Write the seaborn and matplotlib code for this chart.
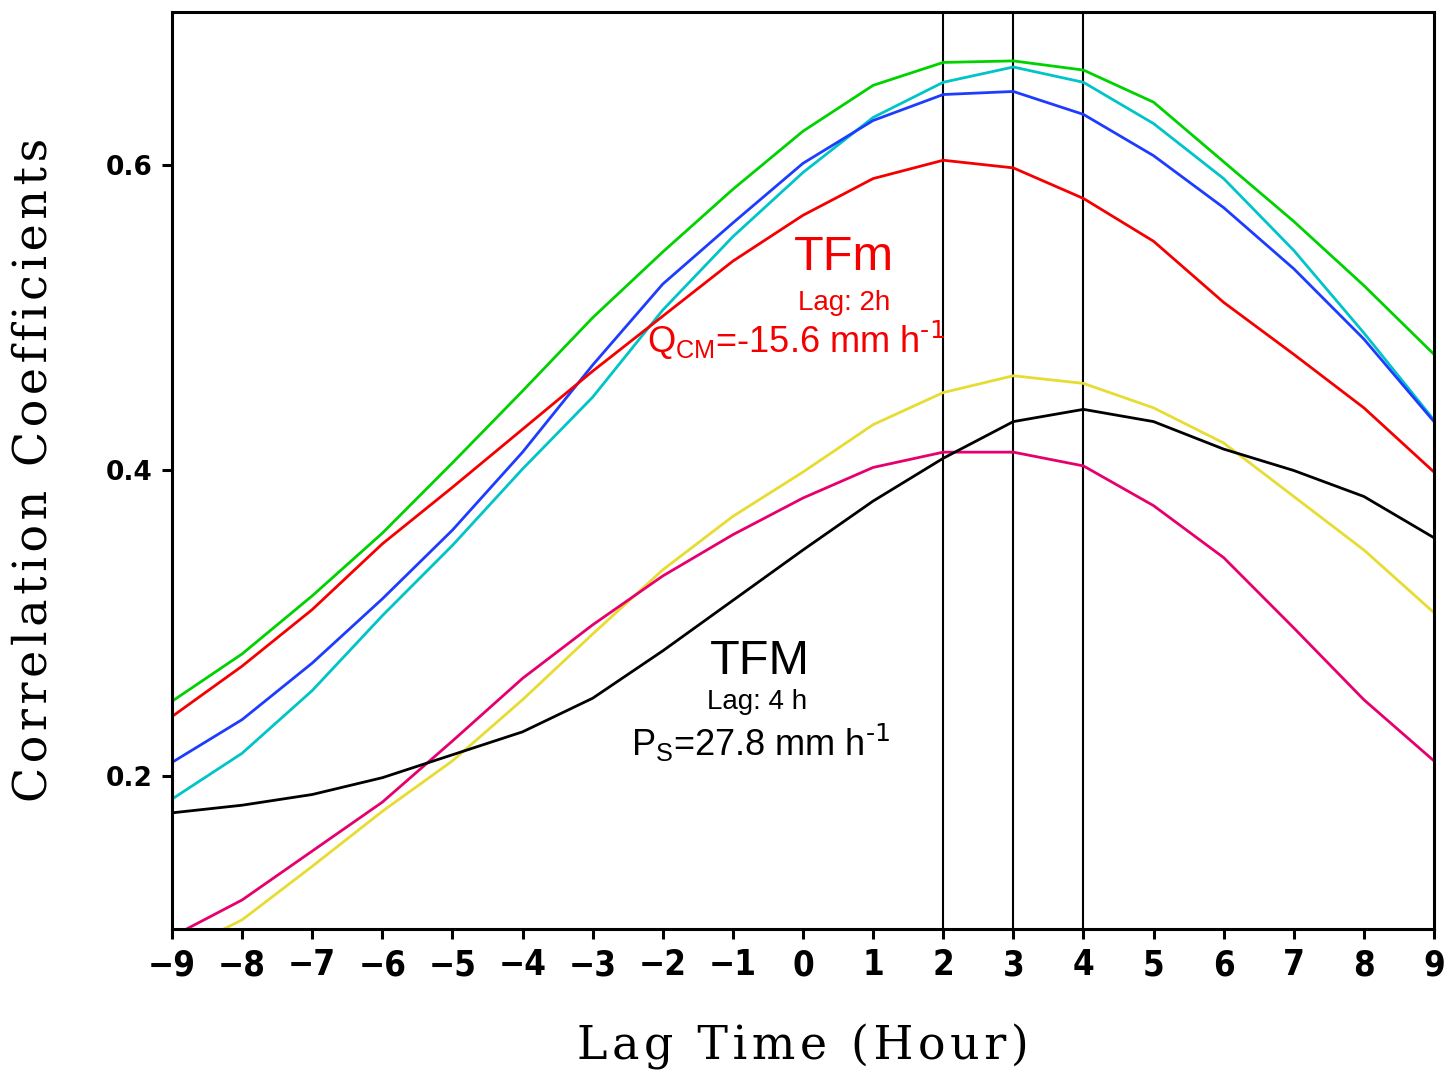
import matplotlib
matplotlib.use("Agg")
import matplotlib.pyplot as plt
import seaborn as sns
import pandas as pd

lags = list(range(-9, 10))
green = [0.249, 0.280, 0.318, 0.359, 0.405, 0.452, 0.500, 0.543, 0.584, 0.622,
         0.652, 0.667, 0.668, 0.662, 0.641, 0.602, 0.563, 0.521, 0.476]
cyan = [0.185, 0.215, 0.256, 0.305, 0.351, 0.401, 0.448, 0.505, 0.553, 0.595,
        0.631, 0.654, 0.664, 0.654, 0.627, 0.591, 0.544, 0.490, 0.433]
blue = [0.209, 0.237, 0.274, 0.316, 0.361, 0.412, 0.469, 0.522, 0.562, 0.601,
        0.629, 0.646, 0.648, 0.633, 0.606, 0.572, 0.532, 0.486, 0.432]
red = [0.239, 0.272, 0.309, 0.352, 0.389, 0.427, 0.465, 0.501, 0.537, 0.567,
       0.591, 0.603, 0.598, 0.578, 0.550, 0.510, 0.476, 0.441, 0.399]
yellow = [0.083, 0.106, 0.141, 0.177, 0.210, 0.250, 0.293, 0.335, 0.370, 0.399,
          0.430, 0.451, 0.462, 0.457, 0.441, 0.418, 0.383, 0.348, 0.307]
magenta = [0.095, 0.119, 0.151, 0.183, 0.223, 0.264, 0.299, 0.331, 0.358, 0.382,
           0.402, 0.412, 0.412, 0.403, 0.377, 0.343, 0.297, 0.250, 0.210]
black = [0.176, 0.181, 0.188, 0.199, 0.214, 0.229, 0.251, 0.282, 0.315, 0.348,
         0.380, 0.408, 0.432, 0.440, 0.432, 0.414, 0.400, 0.383, 0.356]

series_names = ["green", "cyan", "blue", "TFm", "yellow", "magenta", "TFM"]
series_values = [green, cyan, blue, red, yellow, magenta, black]
series_colors = ["#00D200", "#00C4C8", "#1E3CFF", "#F50000", "#E6DC32", "#E6006E", "#000000"]
ytick_vals = [0.2, 0.4, 0.6]
ytick_labels = ["0.2", "0.4", "0.6"]
vlines_at = [2, 3, 4]

rows = []
for name, vals in zip(series_names, series_values):
    for l, v in zip(lags, vals):
        rows.append({"lag": l, "r": v, "series": name})
df = pd.DataFrame(rows)

sns.set_theme(style="ticks")
plt.rcParams["font.family"] = ["DejaVu Sans"]
plt.rcParams["mathtext.default"] = "regular"
plt.rcParams["text.color"] = "black"
plt.rcParams["xtick.color"] = "black"
plt.rcParams["ytick.color"] = "black"

fig = plt.figure(figsize=(14.46, 10.75), dpi=100)
ax = fig.add_axes([172 / 1446, 1 - 929 / 1075, (1434 - 172) / 1446, (929 - 12) / 1075])

sns.lineplot(data=df, x="lag", y="r", hue="series", hue_order=series_names,
             palette=dict(zip(series_names, series_colors)), linewidth=2.0,
             legend=False, ax=ax)

for v in vlines_at:
    ax.axvline(v, color="black", linewidth=1.5, zorder=1)

ax.set_xlim(-9, 9)
ax.set_ylim(0.1, 0.7)
ax.set_xticks(lags)
ax.set_xticklabels([str(l).replace("-", "\u2212") for l in lags],
                   fontsize=25, fontweight="bold", fontstretch="condensed", color="black")
ax.set_yticks(ytick_vals)
ax.set_yticklabels(ytick_labels, fontsize=19, fontweight="bold", color="black")
ax.tick_params(axis="both", direction="out", length=7, width=2.2, pad=7,
               color="black", labelcolor="black")
for s in ax.spines.values():
    s.set_linewidth(2.2)
    s.set_color("black")


def spaced(t):
    return "\u200a".join(list(t))


fig.text(803 / 1446, 1 - 1047 / 1075, spaced("Lag Time (Hour)"), ha="center", va="center",
         fontsize=33, family=["DejaVu Serif"], color="black")
fig.text(34 / 1446, 1 - 470 / 1075, spaced("Correlation Coefficients"), ha="center",
         va="center", rotation=90, fontsize=33, family=["DejaVu Serif"], color="black")

sans = ["Liberation Sans", "DejaVu Sans"]
red_c = "#F50000"
ax.text(0.585, 0.531, "TFm", color=red_c, fontsize=35, ha="center", va="baseline", family=sans)
ax.text(0.585, 0.505, "Lag: 2h", color=red_c, fontsize=20, ha="center", va="baseline", family=sans)
ax.text(-2.225, 0.477, r"Q$_{CM}$=-15.6 mm h$^{\text{-1}}$", color=red_c, fontsize=26,
        ha="left", va="baseline", family=sans)
ax.text(-0.613, 0.267, "TFM", color="black", fontsize=35, ha="center", va="baseline", family=sans)
ax.text(-0.656, 0.244, "Lag: 4 h", color="black", fontsize=20, ha="center", va="baseline", family=sans)
ax.text(-2.453, 0.213, r"P$_{S}$=27.8 mm h$^{\text{-1}}$", color="black", fontsize=26,
        ha="left", va="baseline", family=sans)

ax.set_xlabel("")
ax.set_ylabel("")
fig.savefig("out.png", dpi=100)
